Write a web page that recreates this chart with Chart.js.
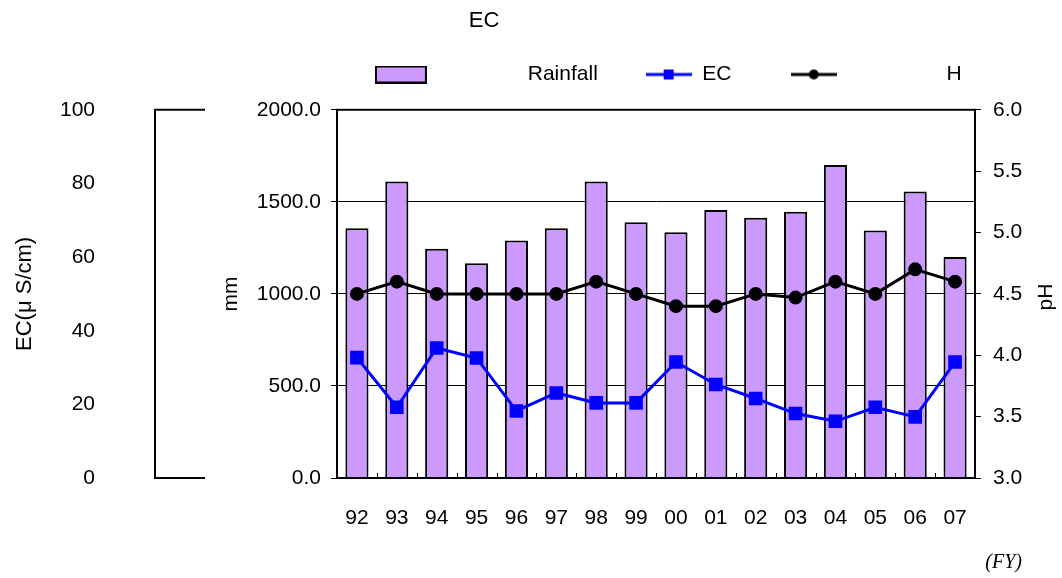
<!DOCTYPE html>
<html>
<head>
<meta charset="utf-8">
<script src="https://cdn.jsdelivr.net/npm/chart.js@4.4.1/dist/chart.umd.min.js"></script>
<style>
  html, body { margin: 0; padding: 0; background: #fff; }
  #wrap { width: 1062px; height: 578px; }
</style>
</head>
<body>
<div id="wrap"><canvas id="ec-chart" width="1062" height="578"></canvas></div>
<script>
// fiscal years
var years = ['92','93','94','95','96','97','98','99','00','01','02','03','04','05','06','07'];
// rainfall (mm)
var rainfall = [1357,1610,1245,1167,1290,1357,1610,1389,1335,1456,1413,1446,1700,1344,1556,1200];
// EC (uS/cm)
var ecValues = [32.7,19.2,35.3,32.6,18.2,23.1,20.4,20.4,31.5,25.4,21.6,17.5,15.4,19.2,16.6,31.5];
// pH
var phValues = [4.5,4.6,4.5,4.5,4.5,4.5,4.6,4.5,4.4,4.4,4.5,4.47,4.6,4.5,4.7,4.6];

var FONT = 'Liberation Sans';

function icon(w, h, draw){
    var c = document.createElement('canvas');
    c.width = w; c.height = h;
    draw(c.getContext('2d'), w, h);
    return c;
}
var legendIcons = [
    icon(52, 18, function(g, w, h){
        g.fillStyle = '#CC99FF'; g.fillRect(1, 1, w-2, h-2);
        g.strokeStyle = '#000'; g.lineWidth = 2; g.strokeRect(1, 1, w-2, h-2);
    }),
    icon(46, 14, function(g, w, h){
        g.strokeStyle = '#0000FF'; g.lineWidth = 3;
        g.beginPath(); g.moveTo(0, h/2); g.lineTo(w, h/2); g.stroke();
        g.fillStyle = '#0000FF'; g.fillRect(w/2-5, h/2-5, 10, 10);
    }),
    icon(46, 14, function(g, w, h){
        g.strokeStyle = '#000'; g.lineWidth = 3;
        g.beginPath(); g.moveTo(0, h/2); g.lineTo(w, h/2); g.stroke();
        g.fillStyle = '#000'; g.beginPath(); g.arc(w/2, h/2, 5, 0, Math.PI*2); g.fill();
    })
];
var legendText = ['                Rainfall ', 'EC   ', '                 H          '];

var extras = {
    id: 'extras',
    afterDraw: function(chart){
        var ctx = chart.ctx;
        var ca = chart.chartArea;
        var ecScale = chart.scales.ec;
        var xs = chart.scales.x;
        ctx.save();
        // EC axis bracket
        ctx.strokeStyle = '#000'; ctx.lineWidth = 2;
        ctx.beginPath();
        ctx.moveTo(ecScale.right + 50, ecScale.top);
        ctx.lineTo(ecScale.right, ecScale.top);
        ctx.lineTo(ecScale.right, ecScale.bottom);
        ctx.lineTo(ecScale.right + 50, ecScale.bottom);
        ctx.stroke();
        // chart area frame
        ctx.strokeRect(ca.left, ca.top, ca.right - ca.left, ca.bottom - ca.top);
        // inward category ticks on the x axis
        ctx.lineWidth = 1;
        ctx.beginPath();
        for (var i = 1; i < years.length; i++) {
            var tx = Math.round((xs.getPixelForValue(i - 1) + xs.getPixelForValue(i)) / 2) + 0.5;
            ctx.moveTo(tx, ca.bottom);
            ctx.lineTo(tx, ca.bottom - 5);
        }
        ctx.stroke();
        ctx.fillStyle = '#000';
        ctx.textBaseline = 'middle';
        // title
        ctx.textAlign = 'center';
        ctx.font = '22px "' + FONT + '"';
        ctx.fillText('EC', 484, 21);
        // pH axis title (bottom-to-top)
        ctx.font = '21px "' + FONT + '"';
        ctx.save();
        ctx.translate(1046, 297);
        ctx.rotate(-Math.PI/2);
        ctx.fillText('pH', 0, 0);
        ctx.restore();
        // (FY)
        ctx.textAlign = 'right';
        ctx.font = 'italic 20px "Liberation Serif"';
        ctx.fillText('(FY)', 1022, 563);
        ctx.restore();
    }
};

var ctx = document.getElementById('ec-chart').getContext('2d');
var myChart = new Chart(ctx, {
    type: 'bar',
    data: {
        labels: years,
        datasets: [{
            label: 'Rainfall',
            data: rainfall,
            yAxisID: 'mm',
            backgroundColor: '#CC99FF',
            borderColor: '#000',
            borderWidth: 2,
            barPercentage: 0.58,
            categoryPercentage: 1,
            order: 3
        }, {
            type: 'line',
            label: 'EC',
            data: ecValues,
            yAxisID: 'ec',
            borderColor: '#0000FF',
            backgroundColor: '#0000FF',
            borderWidth: 3,
            pointStyle: 'rect',
            pointRadius: 7.5,
            pointHoverRadius: 7.5,
            order: 2
        }, {
            type: 'line',
            label: 'H',
            data: phValues,
            yAxisID: 'ph',
            borderColor: '#000',
            backgroundColor: '#000',
            borderWidth: 3,
            pointStyle: 'circle',
            pointRadius: 5.5,
            pointHoverRadius: 5.5,
            order: 1
        }]
    },
    options: {
        responsive: false,
        animation: false,
        layout: { padding: { top: 22, left: 0, right: 0, bottom: 0 } },
        plugins: {
            title: { display: false },
            tooltip: { enabled: false },
            // empty spacer between legend and plot
            subtitle: {
                display: true,
                text: '',
                font: { size: 4 },
                padding: { top: 0, bottom: 10 }
            },
            legend: {
                position: 'top',
                weight: 1600,
                fullSize: true,
                align: 'end',
                labels: {
                    color: '#000',
                    font: { family: FONT, size: 21 },
                    usePointStyle: true,
                    pointStyleWidth: 46,
                    padding: 42,
                    generateLabels: function(chart){
                        var items = Chart.defaults.plugins.legend.labels.generateLabels(chart);
                        items.forEach(function(it, i){
                            it.pointStyle = legendIcons[i];
                            it.text = legendText[i];
                        });
                        return items;
                    }
                }
            }
        },
        scales: {
            x: {
                grid: { display: false },
                border: { display: false },
                ticks: { color: '#000', font: { family: FONT, size: 21 }, padding: 20, maxRotation: 0 },
                afterFit: function(s){ s.height = 100; }
            },
            ec: {
                position: 'left',
                weight: 2,
                min: 0, max: 100,
                grid: { display: false },
                border: { display: false },
                ticks: { stepSize: 20, color: '#000', font: { family: FONT, size: 21 }, padding: 52 },
                title: { display: true, text: 'EC(μ S/cm)', color: '#000', font: { family: FONT, size: 22 }, padding: { top: 12, bottom: 0 } },
                afterFit: function(s){ s.width = 155; }
            },
            mm: {
                position: 'left',
                weight: 1,
                min: 0, max: 2000,
                grid: {
                    color: '#000',
                    lineWidth: 1,
                    tickLength: 6,
                    drawTicks: true
                },
                border: { display: true, color: '#000', width: 2 },
                ticks: {
                    stepSize: 500, color: '#000', font: { family: FONT, size: 21 }, padding: 10,
                    callback: function(v){ return v.toFixed(1); }
                },
                title: { display: true, text: 'mm', color: '#000', font: { family: FONT, size: 21 }, padding: { top: 64, bottom: 0 } },
                afterFit: function(s){ s.width = 182; }
            },
            ph: {
                position: 'right',
                min: 3.0, max: 6.0,
                grid: { drawOnChartArea: false, color: '#000', tickLength: 6 },
                border: { display: true, color: '#000', width: 2 },
                ticks: {
                    stepSize: 0.5, color: '#000', font: { family: FONT, size: 21 }, padding: 12,
                    callback: function(v){ return v.toFixed(1); }
                },
                afterFit: function(s){ s.width = 87; }
            }
        }
    },
    plugins: [extras]
});
</script>
</body>
</html>
